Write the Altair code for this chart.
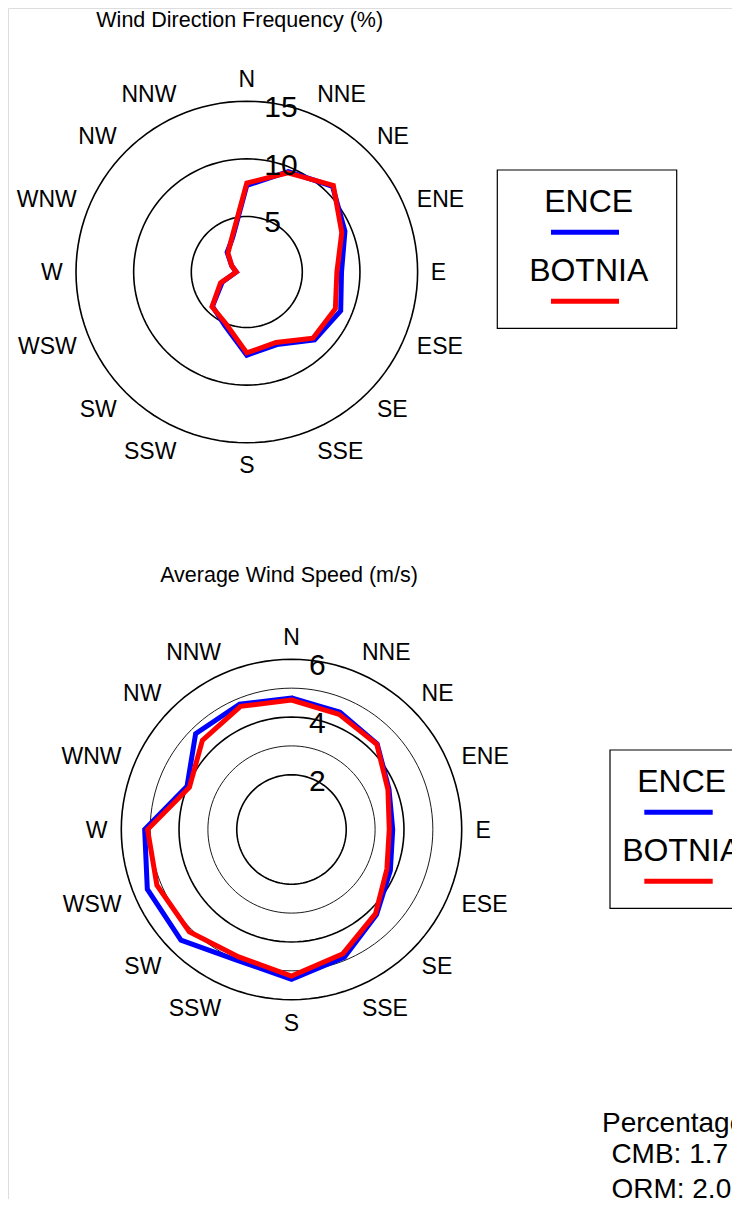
import math
import altair as alt
import pandas as pd

# ---------------- data ----------------
directions = ["N", "NNE", "NE", "ENE", "E", "ESE", "SE", "SSE",
              "S", "SSW", "SW", "WSW", "W", "WNW", "NW", "NNW"]
series_names = ["ENCE", "BOTNIA"]
series_colors = ["#0000ff", "#ff0000"]

freq_ence = [7.7, 9.6, 10.7, 9.4, 8.4, 9.0, 8.5, 7.0, 7.4, 5.2, 4.4, 2.5, 1.1, 1.6, 2.6, 3.4]
freq_botnia = [7.9, 9.5, 10.8, 9.1, 8.0, 8.5, 8.3, 6.8, 7.2, 5.0, 4.45, 2.65, 1.1, 1.6, 2.5, 3.5]
speed_ence = [4.66, 4.50, 4.30, 3.76, 3.61, 3.81, 4.27, 4.89, 5.29, 5.01, 5.52, 5.51, 5.19, 4.02, 4.80, 4.80]
speed_botnia = [4.59, 4.42, 4.28, 3.72, 3.49, 3.68, 4.22, 4.76, 5.18, 4.88, 5.11, 5.15, 5.09, 3.93, 4.47, 4.72]

freq_rings = [5, 10, 15]
freq_ring_major = [5, 10, 15]
freq_ring_labels = [5, 10, 15]
speed_rings = [2, 3, 4, 5, 6]
speed_ring_major = [2, 4, 6]
speed_ring_labels = [2, 4, 6]

titles = ["Wind Direction Frequency (%)", "Average Wind Speed (m/s)"]
calm_lines = ["Percentage of calms", "CMB: 1.7 %", "ORM: 2.0 %"]

# ---------------- layout ----------------
W, H = 724, 1191
FONT = "Liberation Sans"
LINE_W = 5.0

P1 = dict(cx=238.8, cy=264.0, k=11.53, v0=0.186)
P2 = dict(cx=283.5, cy=821.5, k=28.87, v0=0.104)


def xs(p):
    return alt.Scale(domain=[-p["cx"] / p["k"], (W - p["cx"]) / p["k"]], nice=False, zero=False)


def ys(p):
    return alt.Scale(domain=[-(H - p["cy"]) / p["k"], p["cy"] / p["k"]], nice=False, zero=False)


page_x = alt.Scale(domain=[0, W], nice=False, zero=False)
page_y = alt.Scale(domain=[0, H], nice=False, zero=False, reverse=True)


def polar_layers(p, rings, majors, ring_labels, ence, botnia):
    layers = []
    # rings
    rows = []
    for r in rings:
        for a in range(0, 361, 3):
            rows.append({"ring": r, "ang": a, "sw": 1.6 if r in majors else 0.9})
    ring_df = pd.DataFrame(rows)
    layers.append(
        alt.Chart(ring_df).mark_line(color="black", clip=False)
        .transform_calculate(
            px=f"(datum.ring - {p['v0']}) * sin(datum.ang * PI / 180)",
            py=f"(datum.ring - {p['v0']}) * cos(datum.ang * PI / 180)",
        )
        .encode(
            x=alt.X("px:Q", scale=xs(p), axis=None),
            y=alt.Y("py:Q", scale=ys(p), axis=None),
            detail="ring:N",
            order="ang:Q",
            strokeWidth=alt.StrokeWidth("sw:Q", scale=None),
        )
    )
    # series polygons (closed, first two points repeated for a clean join)
    for name, vals, col in zip(series_names, [ence, botnia], series_colors):
        idx = list(range(16)) + [0, 1]
        df = pd.DataFrame({
            "dir": [directions[i] for i in idx],
            "ang": [i * 22.5 for i in idx],
            "value": [vals[i] for i in idx],
            "seq": list(range(len(idx))),
        })
        layers.append(
            alt.Chart(df).mark_line(color=col, strokeWidth=LINE_W, strokeJoin="miter", clip=False)
            .transform_calculate(
                px=f"(datum.value - {p['v0']}) * sin(datum.ang * PI / 180)",
                py=f"(datum.value - {p['v0']}) * cos(datum.ang * PI / 180)",
            )
            .encode(
                x=alt.X("px:Q", scale=xs(p), axis=None),
                y=alt.Y("py:Q", scale=ys(p), axis=None),
                order="seq:Q",
            )
        )
    # direction labels
    groups = {"left": [], "right": [], "center": []}
    for i, d in enumerate(directions):
        t = math.radians(i * 22.5)
        s, c = math.sin(t), math.cos(t)
        al = "center" if abs(s) < 1e-6 else ("left" if s > 0 else "right")
        groups[al].append({"label": d, "lx": 184 * s / p["k"], "ly": (193 * c - 1.4) / p["k"]})
    for al, rows in groups.items():
        layers.append(
            alt.Chart(pd.DataFrame(rows)).mark_text(
                font=FONT, fontSize=23, align=al, baseline="middle", color="black")
            .encode(
                x=alt.X("lx:Q", scale=xs(p), axis=None),
                y=alt.Y("ly:Q", scale=ys(p), axis=None),
                text="label:N",
            )
        )
    # ring labels
    rl = pd.DataFrame({
        "label": [str(v) for v in ring_labels],
        "lx": [17.5 / p["k"]] * len(ring_labels),
        "ly": [(v - p["v0"]) - 6.8 / p["k"] for v in ring_labels],
    })
    layers.append(
        alt.Chart(rl).mark_text(font=FONT, fontSize=30, align="left", baseline="middle", color="black")
        .encode(
            x=alt.X("lx:Q", scale=xs(p), axis=None),
            y=alt.Y("ly:Q", scale=ys(p), axis=None),
            text="label:N",
        )
    )
    return layers


def legend_layers(left, top, right, text_cx, line_x0, line_x1):
    layers = []
    box = pd.DataFrame({"x0": [left], "x1": [right], "y0": [top], "y1": [top + 158.3]})
    layers.append(
        alt.Chart(box).mark_rect(fillOpacity=0, stroke="black", strokeWidth=1.2)
        .encode(
            x=alt.X("x0:Q", scale=page_x, axis=None), x2="x1:Q",
            y=alt.Y("y0:Q", scale=page_y, axis=None), y2="y1:Q",
        )
    )
    step = 69.0
    txt = pd.DataFrame({
        "name": series_names,
        "tx": [text_cx] * len(series_names),
        "ty": [top + 31.9 + step * i for i in range(len(series_names))],
    })
    layers.append(
        alt.Chart(txt).mark_text(font=FONT, fontSize=32, align="center", baseline="middle", color="black")
        .encode(
            x=alt.X("tx:Q", scale=page_x, axis=None),
            y=alt.Y("ty:Q", scale=page_y, axis=None),
            text="name:N",
        )
    )
    ln = pd.DataFrame({
        "name": series_names,
        "lx0": [line_x0] * len(series_names),
        "lx1": [line_x1] * len(series_names),
        "ly": [top + 62.3 + step * i for i in range(len(series_names))],
    })
    layers.append(
        alt.Chart(ln).mark_rule(strokeWidth=LINE_W)
        .encode(
            x=alt.X("lx0:Q", scale=page_x, axis=None), x2="lx1:Q",
            y=alt.Y("ly:Q", scale=page_y, axis=None),
            color=alt.Color("name:N", scale=alt.Scale(domain=series_names, range=series_colors), legend=None),
        )
    )
    return layers


layers = []
layers += polar_layers(P1, freq_rings, freq_ring_major, freq_ring_labels, freq_ence, freq_botnia)
layers += polar_layers(P2, speed_rings, speed_ring_major, speed_ring_labels, speed_ence, speed_botnia)

# titles
tdf = pd.DataFrame({"title": titles, "tx": [231.7, 281.0], "ty": [13.3, 568.3]})
layers.append(
    alt.Chart(tdf).mark_text(font=FONT, fontSize=21.5, align="center", baseline="middle", color="black")
    .encode(
        x=alt.X("tx:Q", scale=page_x, axis=None),
        y=alt.Y("ty:Q", scale=page_y, axis=None),
        text="title:N",
    )
)

layers += legend_layers(489.3, 162.0, 668.7, 580.7, 543.0, 611.0)
layers += legend_layers(602.0, 742.0, 782.0, 673.7, 636.3, 704.7)

# calm percentages
cdf = pd.DataFrame({"line": calm_lines, "tx": [594.0, 603.4, 603.4], "ty": [1115.5, 1147.3, 1182.4]})
layers.append(
    alt.Chart(cdf).mark_text(font=FONT, fontSize=28, align="left", baseline="middle", color="black")
    .encode(
        x=alt.X("tx:Q", scale=page_x, axis=None),
        y=alt.Y("ty:Q", scale=page_y, axis=None),
        text="line:N",
    )
)

chart = (
    alt.layer(*layers)
    .resolve_scale(x="independent", y="independent", color="independent")
    .properties(width=W, height=H, padding=0, autosize=alt.AutoSizeParams(type="none"))
    .configure_view(strokeWidth=0, stroke="transparent")
    .configure(background="white")
)

chart.save("out.html", embed_options={"renderer": "svg", "actions": False})
